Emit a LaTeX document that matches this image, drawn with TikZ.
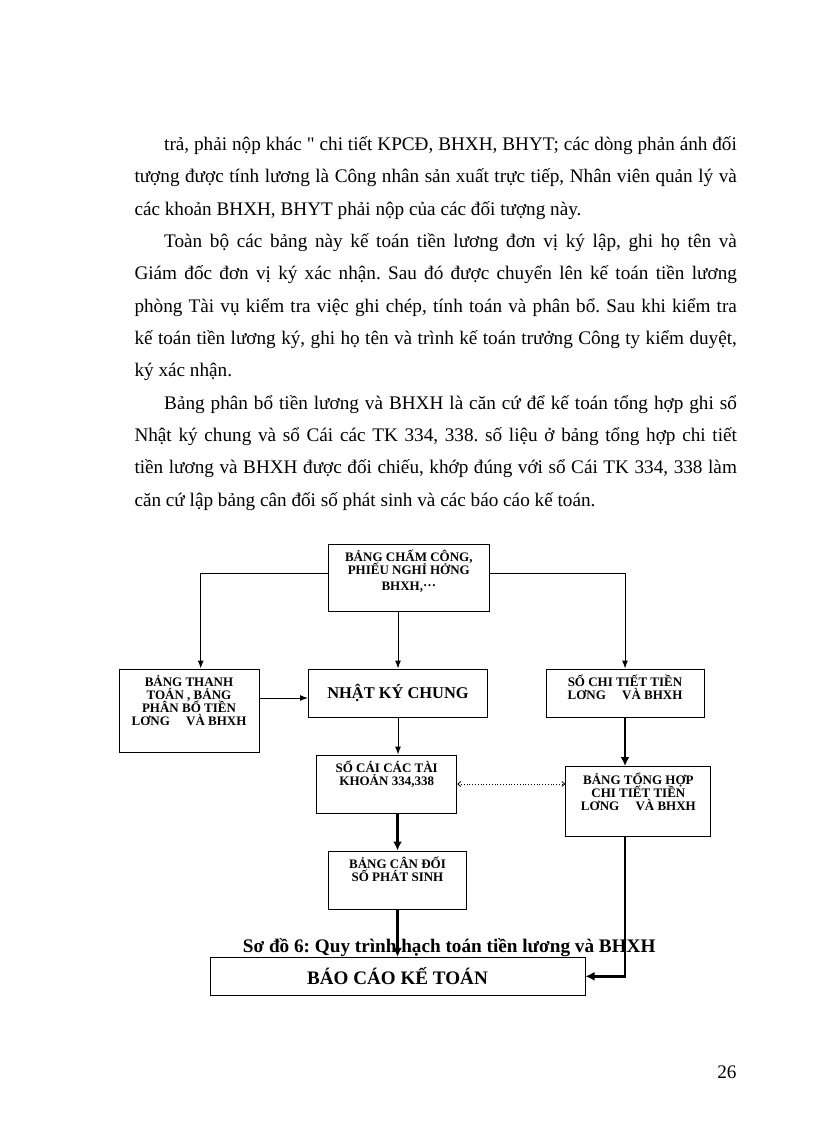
\documentclass[tikz,border=0pt]{standalone}
\usepackage{fontspec}
\setmainfont{Liberation Serif}[Ligatures=TeXOff]
\usetikzlibrary{positioning,calc,arrows.meta}
\frenchspacing

\tikzset{
  box/.style={draw, line width=1pt, inner sep=0pt},
  boxtxt/.style={inner sep=0pt, align=center,
    font=\bfseries\fontsize{13}{13}\selectfont,
    execute at begin node={\lineskiplimit=-20pt\relax}},
  arr/.style={line width=1pt, -{Latex[length=8pt,width=6pt]}},
  tarr/.style={line width=2.7pt, -{Latex[length=9pt,width=9pt]}},
  dotarr/.style={line width=.8pt, dotted, {Straight Barb[length=3pt,width=5pt]}-{Straight Barb[length=3pt,width=5pt]}},
  txtline/.style={anchor=base west, inner sep=0pt, font=\fontsize{19.2}{23}\selectfont}
}

\begin{document}
\begin{tikzpicture}[x=1pt, y=-1pt]
\path[use as bounding box, fill=white] (0,0) rectangle (816,1123);

\node[txtline] (l1) at (164,150.7) {\makebox[572.7pt][s]{trả, phải nộp khác " chi tiết KPCĐ, BHXH, BHYT; các dòng phản ánh đối}};
\node[txtline] (l2) at (134.3,183) {\makebox[602.4pt][s]{tượng được tính lương là Công nhân sản xuất trực tiếp, Nhân viên quản lý và}};
\node[txtline] (l3) at (134.3,215.3) {các khoản BHXH, BHYT phải nộp của các đối tượng này.};
\node[txtline] (l4) at (164,247.6) {\makebox[572.7pt][s]{Toàn bộ các bảng này kế toán tiền lương đơn vị ký lập, ghi họ tên và}};
\node[txtline] (l5) at (134.3,279.9) {\makebox[602.4pt][s]{Giám đốc đơn vị ký xác nhận. Sau đó được chuyển lên kế toán tiền lương}};
\node[txtline] (l6) at (134.3,312.2) {\makebox[602.4pt][s]{phòng Tài vụ kiểm tra việc ghi chép, tính toán và phân bổ. Sau khi kiểm tra}};
\node[txtline] (l7) at (134.3,344.5) {\makebox[602.4pt][s]{kế toán tiền lương ký, ghi họ tên và trình kế toán trưởng Công ty kiểm duyệt,}};
\node[txtline] (l8) at (134.3,376.8) {ký xác nhận.};
\node[txtline] (l9) at (164,409.1) {\makebox[572.7pt][s]{Bảng phân bổ tiền lương và BHXH là căn cứ để kế toán tổng hợp ghi sổ}};
\node[txtline] (l10) at (134.3,441.4) {\makebox[602.4pt][s]{Nhật ký chung và sổ Cái các TK 334, 338. số liệu ở bảng tổng hợp chi tiết}};
\node[txtline] (l11) at (134.3,473.7) {\makebox[602.4pt][s]{tiền lương và BHXH được đối chiếu, khớp đúng với sổ Cái TK 334, 338 làm}};
\node[txtline] (l12) at (134.3,506) {căn cứ lập bảng cân đối số phát sinh và các báo cáo kế toán.};

\node[box, minimum width=161pt, minimum height=67pt] (cham) at (408.8,577.5) {};
\node[box, minimum width=140pt, minimum height=83pt] (thanhtoan) at (189,710.5) {};
\node[box, minimum width=179pt, minimum height=48pt, font=\bfseries\fontsize{16.4}{18}\selectfont] (nkc) at (398,693) {NHẬT KÝ CHUNG};
\node[box, minimum width=158pt, minimum height=48pt] (sochitiet) at (625,693) {};
\node[box, minimum width=140pt, minimum height=58pt] (socai) at (386.7,784) {};
\node[box, minimum width=145pt, minimum height=70pt] (tonghop) at (638.4,801.5) {};
\node[box, minimum width=138pt, minimum height=58pt] (candoi) at (397.5,880) {};
\node[box, minimum width=375pt, minimum height=38pt, font=\bfseries\fontsize{19.1}{22}\selectfont] (baocao) at (397.5,976.3) {BÁO CÁO KẾ TOÁN};

\node[boxtxt, below=6.5pt of cham.north] (cham-t) {BẢNG CHẤM CÔNG,\\PHIẾU NGHỈ HỞNG\hspace{12pt}\\[3pt]BHXH,\raisebox{.3em}{…}};
\node[boxtxt, below=6.5pt of thanhtoan.north] (thanhtoan-t) {BẢNG THANH\\TOÁN , BẢNG\\PHÂN BỔ TIỀN\\LƠNG \quad VÀ BHXH};
\node[boxtxt, below=6.5pt of sochitiet.north] (sochitiet-t) {SỔ CHI TIẾT TIỀN\\LƠNG \quad VÀ BHXH};
\node[boxtxt, below=6.5pt of socai.north] (socai-t) {SỔ CÁI CÁC TÀI\\KHOẢN 334,338};
\node[boxtxt, below=6.5pt of tonghop.north] (tonghop-t) {BẢNG TỔNG HỢP\\CHI TIẾT TIỀN\\LƠNG \quad VÀ BHXH};
\node[boxtxt, below=6.5pt of candoi.north] (candoi-t) {BẢNG CÂN ĐỐI\\SỐ PHÁT SINH};

\node[anchor=base, inner sep=0pt, font=\bfseries\fontsize{19.2}{22}\selectfont] (caption) at (449.2,952.7) {Sơ đồ 6: Quy trình hạch toán tiền lương và BHXH};
\node[txtline, anchor=base east] (page) at (736.7,1078) {26};

\draw[arr] ([yshift=4.5pt]cham.west) -| ([xshift=11.7pt]thanhtoan.north);
\draw[arr] ([yshift=4.5pt]cham.east) -| (sochitiet.north);
\draw[arr] (cham.south -| nkc.north) -- (nkc.north);
\draw[arr] ($(thanhtoan.east |- nkc.west)+(0,5)$) -- ($(nkc.west)+(0,5)$);
\draw[arr] (nkc.south) -- (nkc.south |- socai.north);
\draw[tarr] (candoi.north |- socai.south) -- (candoi.north);
\draw[tarr] (candoi.south) -- (candoi.south |- baocao.north);
\draw[tarr] (sochitiet.south) -- (sochitiet.south |- tonghop.north);
\draw[tarr] (tonghop.south -| sochitiet.south) |- (baocao.east);
\draw[dotarr] (socai.east) -- (socai.east -| tonghop.west);
\end{tikzpicture}
\end{document}
